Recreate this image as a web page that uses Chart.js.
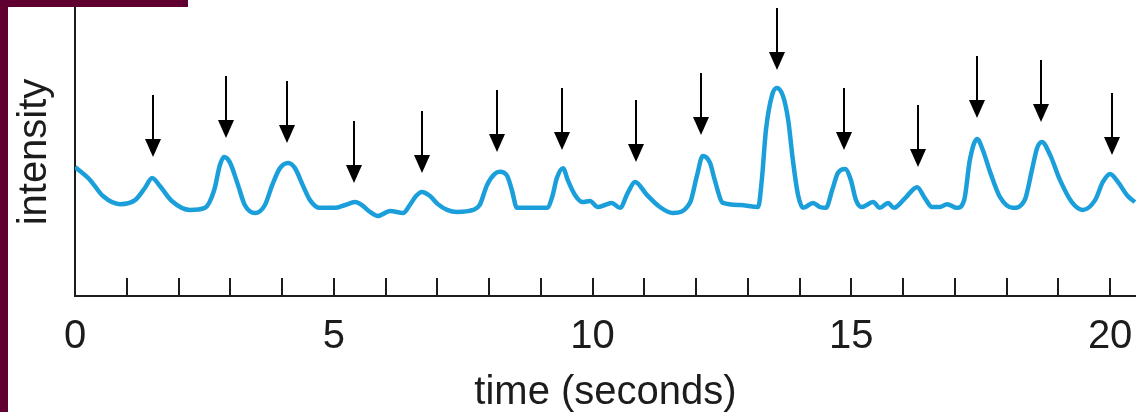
<!DOCTYPE html>
<html>
<head>
<meta charset="utf-8">
<script src="https://cdn.jsdelivr.net/npm/chart.js@4.4.0/dist/chart.umd.min.js"></script>
<style>
    html, body { margin: 0; padding: 0; background: #fff; }
    #wrap { position: relative; width: 1136px; height: 412px; overflow: hidden; }
    .bar { position: absolute; background: #5f0031; z-index: 2; }
    #barLeft { left: 0; top: 0; width: 8px; height: 412px; }
    #barTop { left: 0; top: 0; width: 188px; height: 7px; }
    canvas { position: absolute; left: 0; top: 0; }
</style>
</head>
<body>
<div id="wrap">
    <div class="bar" id="barLeft"></div>
    <div class="bar" id="barTop"></div>
    <canvas id="chart" width="1136" height="412"></canvas>
</div>
<script>
// Trace of the intensity signal (time in seconds, intensity in arbitrary units 0-100)
const times = [
    0, 0.29, 0.54, 0.87, 1.16, 1.35, 1.49, 1.64, 1.87, 2.22,
    2.51, 2.69, 2.80, 2.88, 2.99, 3.15, 3.28, 3.48, 3.67, 3.81,
    3.96, 4.12, 4.25, 4.40, 4.54, 4.73, 5.02, 5.22, 5.41, 5.54,
    5.70, 5.85, 6.09, 6.34, 6.47, 6.59, 6.70, 6.86, 7.01, 7.19,
    7.38, 7.69, 7.82, 7.96, 8.11, 8.21, 8.35, 8.44, 8.54, 8.79,
    9.12, 9.22, 9.31, 9.43, 9.52, 9.66, 9.81, 9.95, 10.10, 10.24,
    10.37, 10.53, 10.68, 10.82, 11.05, 11.30, 11.55, 11.88, 12.02, 12.13,
    12.27, 12.36, 12.52, 12.85, 13.20, 13.27, 13.35, 13.47, 13.56, 13.68,
    13.78, 13.87, 13.97, 14.07, 14.26, 14.39, 14.51, 14.63, 14.74, 14.88,
    14.99, 15.09, 15.20, 15.42, 15.55, 15.71, 15.82, 16.04, 16.27, 16.42,
    16.56, 16.71, 16.85, 17.04, 17.18, 17.29, 17.43, 17.54, 17.68, 17.87,
    18.12, 18.35, 18.49, 18.59, 18.68, 18.84, 19.03, 19.26, 19.47, 19.71,
    19.86, 20.00, 20.15, 20.34, 20.48
];
const intensity = [
    44.8, 40.3, 34.7, 31.9, 33.3, 37.5, 41.0, 38.2, 33.0, 29.9,
    30.6, 36.8, 45.5, 48.3, 46.5, 38.5, 31.6, 28.8, 31.6, 38.5,
    44.4, 46.2, 44.4, 38.5, 33.3, 30.6, 30.6, 31.6, 32.6, 31.6,
    29.2, 27.8, 29.5, 28.8, 31.6, 34.7, 36.1, 34.7, 31.9, 29.9,
    29.2, 29.9, 31.6, 38.5, 42.4, 43.1, 41.7, 36.8, 30.6, 30.6,
    30.6, 34.4, 41.0, 44.4, 40.3, 35.1, 32.6, 33.0, 30.9, 31.6,
    32.3, 30.6, 35.8, 39.6, 35.1, 30.9, 28.8, 32.3, 42.0, 48.6,
    46.2, 40.3, 32.3, 31.6, 30.9, 40.3, 57.6, 69.8, 72.2, 69.4,
    61.1, 47.2, 35.1, 30.6, 32.3, 30.9, 30.6, 36.8, 42.7, 44.1,
    40.3, 33.3, 30.9, 32.6, 30.6, 32.3, 30.6, 34.0, 37.8, 34.0,
    30.9, 30.9, 31.9, 30.6, 33.3, 47.2, 54.5, 50.7, 43.1, 34.4,
    30.6, 33.3, 43.8, 51.4, 53.5, 49.0, 40.3, 32.6, 29.9, 33.3,
    39.6, 42.4, 39.6, 34.7, 32.6
];

// Arrows marking each peak: time and the intensity where the arrow tip sits
const arrowTimes = [1.51, 2.92, 4.10, 5.39, 6.70, 8.15, 9.41, 10.84, 12.09, 13.56, 14.86, 16.29, 17.43, 18.66, 20.04];
const arrowTips = [48.3, 54.9, 53.1, 39.2, 42.7, 50.0, 50.7, 46.5, 55.9, 78.5, 50.7, 44.8, 61.8, 60.4, 49.0];

// X axis: minor tick every second, labels every five
const tickValues = [0, 1, 2, 3, 4, 5, 6, 7, 8, 9, 10, 11, 12, 13, 14, 15, 16, 17, 18, 19, 20];
const tickLabels = ['0', '5', '10', '15', '20'];

const FONT = "'Liberation Sans', Arial, Helvetica, sans-serif";
const INK = '#1c1c1c';

// Inward tick marks along the time axis
const innerTicks = {
    id: 'innerTicks',
    afterDraw(chart) {
        const { ctx, scales: { x } } = chart;
        const y0 = chart.chartArea.bottom;
        ctx.save();
        ctx.strokeStyle = INK;
        ctx.lineWidth = 2;
        tickValues.forEach(v => {
            if (v === 0) return;
            const px = Math.round(x.getPixelForValue(v));
            ctx.beginPath();
            ctx.moveTo(px, y0);
            ctx.lineTo(px, y0 - 18);
            ctx.stroke();
        });
        ctx.restore();
    }
};

// Downward arrows pointing at the peaks
const peakArrows = {
    id: 'peakArrows',
    afterDatasetsDraw(chart) {
        const { ctx, scales: { x, y } } = chart;
        ctx.save();
        ctx.strokeStyle = '#000';
        ctx.fillStyle = '#000';
        ctx.lineWidth = 2;
        arrowTimes.forEach((t, i) => {
            const px = Math.round(x.getPixelForValue(t));
            const tip = y.getPixelForValue(arrowTips[i]);
            const top = tip - 62;
            const headH = 18, headW = 8;
            ctx.beginPath();
            ctx.moveTo(px, top);
            ctx.lineTo(px, tip - headH + 2);
            ctx.stroke();
            ctx.beginPath();
            ctx.moveTo(px - headW, tip - headH);
            ctx.lineTo(px + headW, tip - headH);
            ctx.lineTo(px, tip);
            ctx.closePath();
            ctx.fill();
        });
        ctx.restore();
    }
};

new Chart(document.getElementById('chart').getContext('2d'), {
    type: 'line',
    data: {
        datasets: [{
            data: times.map((t, i) => ({ x: t, y: intensity[i] })),
            borderColor: '#1b9fdb',
            borderWidth: 4.5,
            pointRadius: 0,
            fill: false,
            cubicInterpolationMode: 'monotone'
        }]
    },
    options: {
        responsive: false,
        animation: false,
        layout: { padding: { left: 10, top: 8, right: 0, bottom: 0 } },
        plugins: {
            legend: { display: false },
            tooltip: { enabled: false }
        },
        scales: {
            x: {
                type: 'linear',
                min: 0,
                max: 20.5,
                afterBuildTicks: scale => {
                    scale.ticks = tickValues.map(v => ({ value: v }));
                },
                grid: { display: true, drawOnChartArea: false, drawTicks: false },
                border: { display: true, color: INK, width: 2 },
                ticks: {
                    autoSkip: false,
                    maxRotation: 0,
                    padding: 0,
                    color: INK,
                    font: { family: FONT, size: 40, lineHeight: 2.05 },
                    callback: v => (v % 5 === 0 ? tickLabels[v / 5] : '')
                },
                title: {
                    display: true,
                    text: 'time (seconds)',
                    color: INK,
                    font: { family: FONT, size: 40, lineHeight: 1.0 },
                    padding: { top: -5, bottom: -1 }
                }
            },
            y: {
                min: 0,
                max: 100,
                grid: { display: true, drawOnChartArea: false, drawTicks: false },
                border: { display: true, color: INK, width: 2 },
                ticks: { display: false },
                title: {
                    display: true,
                    text: 'intensity',
                    color: INK,
                    font: { family: FONT, size: 40, lineHeight: 1.2 },
                    padding: { top: 1, bottom: 16 }
                }
            }
        }
    },
    plugins: [innerTicks, peakArrows]
});
</script>
</body>
</html>
